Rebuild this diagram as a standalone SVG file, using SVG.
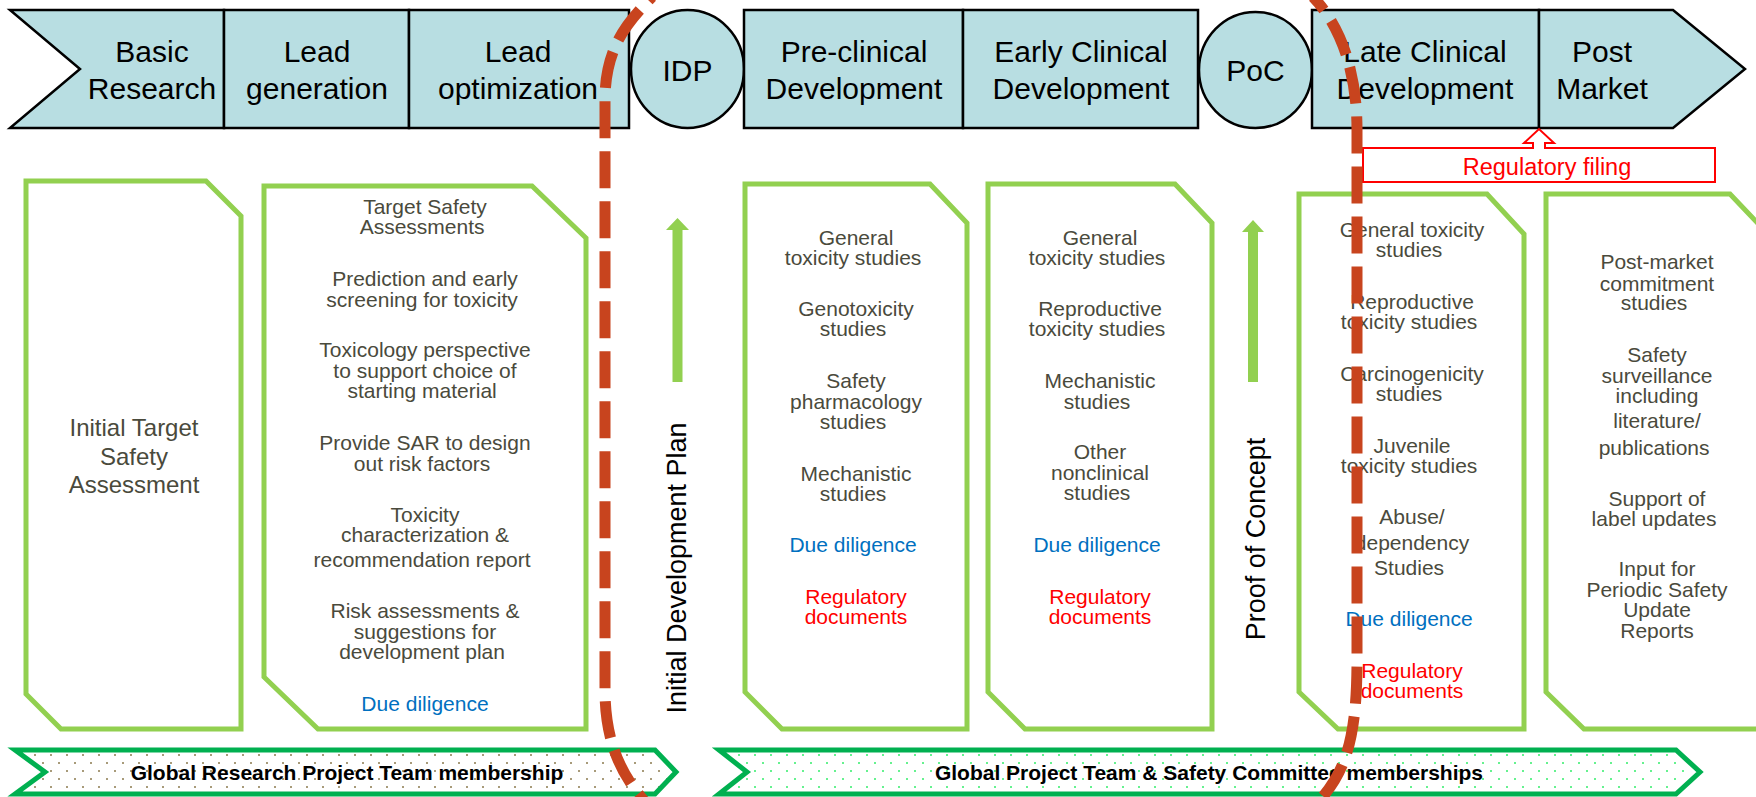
<svg xmlns="http://www.w3.org/2000/svg" width="1756" height="797" viewBox="0 0 1756 797">
<style>
.stage{fill:#B8DEE2;stroke:#000;stroke-width:2.5}
.lbl{font-family:"Liberation Sans",Arial,sans-serif;font-size:30px;text-anchor:middle;fill:#000}
.box{fill:#fff;stroke:#92D050;stroke-width:5;stroke-linejoin:miter}
.bt{font-family:"Liberation Sans",Arial,sans-serif;font-size:21px;text-anchor:middle;fill:#4A4A3C}
.blue{fill:#0070C0}
.red{fill:#FF0000}
.vt{font-family:"Liberation Sans",Arial,sans-serif;font-size:27px;text-anchor:middle;fill:#000}
.garrow{fill:#92D050}
.band{stroke:#00B050;stroke-width:5}
.bandtxt{font-family:"Liberation Sans",Arial,sans-serif;font-size:21px;font-weight:bold;text-anchor:middle;fill:#000}
.dash{fill:none;stroke:#C8441E;stroke-width:11;stroke-dasharray:37 13}
</style>
<defs>
<pattern id="dotsBrown" width="16" height="16" patternUnits="userSpaceOnUse">
<rect width="16" height="16" fill="#fff"/>
<rect x="2" y="2" width="2" height="2" fill="#A89B7A"/>
<rect x="10" y="10" width="2" height="2" fill="#A89B7A"/>
</pattern>
<pattern id="dotsGreen" width="16" height="16" patternUnits="userSpaceOnUse">
<rect width="16" height="16" fill="#fff"/>
<rect x="2" y="2" width="2" height="2" fill="#66F28F"/>
<rect x="10" y="10" width="2" height="2" fill="#66F28F"/>
</pattern>
</defs>
<rect width="1756" height="797" fill="#fff"/>

<!-- top stages -->
<g id="basic-research">
<polygon class="stage" points="10,10 224,10 224,128 10,128 80,69"/>
<text class="lbl"><tspan x="152" y="62">Basic</tspan><tspan x="152" y="99">Research</tspan></text>
</g>
<g id="lead-generation">
<rect class="stage" x="224" y="10" width="185" height="118"/>
<text class="lbl"><tspan x="317" y="62">Lead</tspan><tspan x="317" y="99">generation</tspan></text>
</g>
<g id="lead-optimization">
<rect class="stage" x="409" y="10" width="220" height="118"/>
<text class="lbl"><tspan x="518" y="62">Lead</tspan><tspan x="518" y="99">optimization</tspan></text>
</g>
<g id="idp">
<ellipse class="stage" cx="687.5" cy="69" rx="56.5" ry="59"/>
<text class="lbl" x="687.5" y="81">IDP</text>
</g>
<g id="pre-clinical">
<rect class="stage" x="744" y="10" width="219" height="118"/>
<text class="lbl"><tspan x="854" y="62">Pre-clinical</tspan><tspan x="854" y="99">Development</tspan></text>
</g>
<g id="early-clinical">
<rect class="stage" x="963" y="10" width="235" height="118"/>
<text class="lbl"><tspan x="1081" y="62">Early Clinical</tspan><tspan x="1081" y="99">Development</tspan></text>
</g>
<g id="poc">
<ellipse class="stage" cx="1255.5" cy="70" rx="56.5" ry="58"/>
<text class="lbl" x="1255.5" y="81">PoC</text>
</g>
<g id="late-clinical">
<rect class="stage" x="1312" y="10" width="227" height="118"/>
<text class="lbl"><tspan x="1425" y="62">Late Clinical</tspan><tspan x="1425" y="99">Development</tspan></text>
</g>
<g id="post-market">
<polygon class="stage" points="1539,10 1673,10 1745,69 1673,128 1539,128"/>
<text class="lbl"><tspan x="1602" y="62">Post</tspan><tspan x="1602" y="99">Market</tspan></text>
</g>

<g id="regulatory-filing">
<path d="M1363,148 L1533,148 L1533,143 L1524,143 L1539,129 L1554,143 L1545,143 L1545,148 L1715,148 L1715,182 L1363,182 Z" fill="#fff" stroke="#FF0000" stroke-width="2"/>
<text x="1547" y="175" font-family="Liberation Sans, Arial, sans-serif" font-size="23.5" text-anchor="middle" fill="#FF0000">Regulatory filing</text>
</g>

<!-- activity boxes -->
<g id="box-initial-target">
<polygon class="box" points="26,181 206,181 241,216 241,729 61,729 26,694"/>
<text class="bt" style="font-size:24px"><tspan x="134" y="436">Initial Target</tspan><tspan x="134" y="465">Safety</tspan><tspan x="134" y="493">Assessment</tspan></text>
</g>
<g id="box-research">
<polygon class="box" points="264,186 532,186 586,238 586,729 318,729 264,677"/>
<text class="bt">
<tspan x="425" y="214">Target Safety</tspan><tspan x="425" y="234">Assessments</tspan>
<tspan x="425" y="286">Prediction and early</tspan><tspan x="425" y="307">screening for toxicity</tspan>
<tspan x="425" y="357">Toxicology perspective</tspan><tspan x="425" y="378">to support choice of</tspan><tspan x="425" y="398">starting material</tspan>
<tspan x="425" y="450">Provide SAR to design</tspan><tspan x="425" y="471">out risk factors</tspan>
<tspan x="425" y="522">Toxicity</tspan><tspan x="425" y="542">characterization &amp;</tspan><tspan x="425" y="567">recommendation report</tspan>
<tspan x="425" y="618">Risk assessments &amp;</tspan><tspan x="425" y="639">suggestions for</tspan><tspan x="425" y="659">development plan</tspan>
<tspan x="425" y="711" class="blue">Due diligence</tspan>
</text>
</g>
<g id="box-preclinical">
<polygon class="box" points="745,184 930,184 967,223 967,729 782,729 745,692"/>
<text class="bt">
<tspan x="856" y="245">General</tspan><tspan x="856" y="265">toxicity studies</tspan>
<tspan x="856" y="316">Genotoxicity</tspan><tspan x="856" y="336">studies</tspan>
<tspan x="856" y="388">Safety</tspan><tspan x="856" y="409">pharmacology</tspan><tspan x="856" y="429">studies</tspan>
<tspan x="856" y="481">Mechanistic</tspan><tspan x="856" y="501">studies</tspan>
<tspan x="856" y="552" class="blue">Due diligence</tspan>
<tspan x="856" y="604" class="red">Regulatory</tspan><tspan x="856" y="624" class="red">documents</tspan>
</text>
</g>
<g id="box-early-clinical">
<polygon class="box" points="988,184 1175,184 1212,223 1212,729 1025,729 988,692"/>
<text class="bt">
<tspan x="1100" y="245">General</tspan><tspan x="1100" y="265">toxicity studies</tspan>
<tspan x="1100" y="316">Reproductive</tspan><tspan x="1100" y="336">toxicity studies</tspan>
<tspan x="1100" y="388">Mechanistic</tspan><tspan x="1100" y="409">studies</tspan>
<tspan x="1100" y="459">Other</tspan><tspan x="1100" y="480">nonclinical</tspan><tspan x="1100" y="500">studies</tspan>
<tspan x="1100" y="552" class="blue">Due diligence</tspan>
<tspan x="1100" y="604" class="red">Regulatory</tspan><tspan x="1100" y="624" class="red">documents</tspan>
</text>
</g>
<g id="box-late-clinical">
<polygon class="box" points="1299,194 1487,194 1524,234 1524,729 1338,729 1299,692"/>
<text class="bt">
<tspan x="1412" y="237">General toxicity</tspan><tspan x="1412" y="257">studies</tspan>
<tspan x="1412" y="309">Reproductive</tspan><tspan x="1412" y="329">toxicity studies</tspan>
<tspan x="1412" y="381">Carcinogenicity</tspan><tspan x="1412" y="401">studies</tspan>
<tspan x="1412" y="453">Juvenile</tspan><tspan x="1412" y="473">toxicity studies</tspan>
<tspan x="1412" y="524">Abuse/</tspan><tspan x="1412" y="550">dependency</tspan><tspan x="1412" y="575">Studies</tspan>
<tspan x="1412" y="626" class="blue">Due diligence</tspan>
<tspan x="1412" y="678" class="red">Regulatory</tspan><tspan x="1412" y="698" class="red">documents</tspan>
</text>
</g>
<g id="box-post-market">
<polygon class="box" points="1546,194 1730,194 1768,234 1768,729 1584,729 1546,692"/>
<text class="bt">
<tspan x="1657" y="269">Post-market</tspan><tspan x="1657" y="291">commitment</tspan><tspan x="1657" y="310">studies</tspan>
<tspan x="1657" y="362">Safety</tspan><tspan x="1657" y="383">surveillance</tspan><tspan x="1657" y="403">including</tspan><tspan x="1657" y="428">literature/</tspan><tspan x="1657" y="455">publications</tspan>
<tspan x="1657" y="506">Support of</tspan><tspan x="1657" y="526">label updates</tspan>
<tspan x="1657" y="576">Input for</tspan><tspan x="1657" y="597">Periodic Safety</tspan><tspan x="1657" y="617">Update</tspan><tspan x="1657" y="638">Reports</tspan>
</text>
</g>

<!-- milestones (vertical) -->
<g id="initial-development-plan">
<path class="garrow" d="M672.5,382 L672.5,230 L666,230 L677.5,218 L689,230 L682.5,230 L682.5,382 Z"/>
<text class="vt" transform="translate(686,568) rotate(-90)">Initial Development Plan</text>
</g>
<g id="proof-of-concept">
<path class="garrow" d="M1248,382 L1248,232 L1242,232 L1253,220 L1264,232 L1258,232 L1258,382 Z"/>
<text class="vt" transform="translate(1265,539) rotate(-90)">Proof of Concept</text>
</g>

<!-- membership bands -->
<g id="band-research">
<polygon class="band" fill="url(#dotsBrown)" points="15,750 655,750 676,772 655,794 15,794 45,772"/>
<text class="bandtxt" x="347" y="780">Global Research Project Team membership</text>
</g>
<g id="band-project">
<polygon class="band" fill="url(#dotsGreen)" points="719,750 1676,750 1700,772 1676,794 719,794 747,772"/>
<text class="bandtxt" x="1209" y="780">Global Project Team &amp; Safety Committee memberships</text>
</g>

<!-- connectors: dashed phase boundaries -->
<g id="connectors">
<path class="dash" style="stroke-dashoffset:32" d="M652,-3 C630,20 605,45 605,100 L605,690 C605,740 620,775 648,805"/>
<path class="dash" style="stroke-dashoffset:20" d="M1313,-3 C1340,25 1357,70 1357,130 L1357,660 C1357,740 1345,775 1315,805"/>
</g>
</svg>
